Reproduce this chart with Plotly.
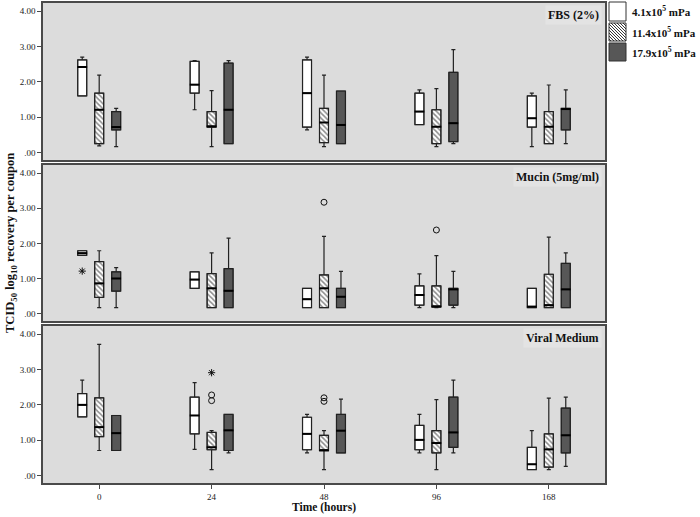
import plotly.graph_objects as go

# ---------------- data ----------------
times = ["0", "24", "48", "96", "168"]
group_names = ["4.1x10<sup>5</sup> mPa", "11.4x10<sup>5</sup> mPa", "17.9x10<sup>5</sup> mPa"]
panel_names = ["FBS (2%)", "Mucin (5mg/ml)", "Viral Medium"]
ytick_vals = [0, 1, 2, 3, 4]
ytick_text = [".00", "1.00", "2.00", "3.00", "4.00"]

# each stat: [white group, hatched group, dark group], values over times
fbs_low = [[1.60, 1.21, 0.64, 0.79, 0.17], [0.19, 0.17, 0.17, 0.17, 0.25], [0.17, 0.25, 0.25, 0.25, 0.25]]
fbs_q1 = [[1.60, 1.68, 0.72, 0.79, 0.72], [0.25, 0.72, 0.28, 0.25, 0.25], [0.64, 0.25, 0.25, 0.31, 0.64]]
fbs_med = [[2.42, 1.92, 1.68, 1.16, 0.97], [1.21, 0.74, 0.85, 0.73, 0.73], [0.72, 1.21, 0.78, 0.83, 1.23]]
fbs_q3 = [[2.62, 2.58, 2.62, 1.68, 1.60], [1.68, 1.16, 1.25, 1.21, 1.16], [1.16, 2.53, 1.74, 2.27, 1.25]]
fbs_high = [[2.70, 2.60, 2.70, 1.77, 1.68], [2.19, 1.75, 2.19, 1.81, 1.91], [1.25, 2.60, 1.74, 2.91, 1.77]]

mucin_low = [[1.66, 0.72, 0.17, 0.17, 0.17], [0.17, 0.17, 0.17, 0.17, 0.17], [0.17, 0.17, 0.17, 0.17, 0.17]]
mucin_q1 = [[1.66, 0.72, 0.17, 0.24, 0.17], [0.46, 0.17, 0.17, 0.19, 0.17], [0.64, 0.17, 0.17, 0.24, 0.17]]
mucin_med = [[1.72, 0.97, 0.41, 0.53, 0.20], [0.86, 0.72, 0.72, 0.20, 0.24], [1.00, 0.65, 0.48, 0.69, 0.69]]
mucin_q3 = [[1.79, 1.19, 0.72, 0.79, 0.72], [1.48, 1.14, 1.10, 0.79, 1.12], [1.19, 1.28, 0.72, 0.72, 1.43]]
mucin_high = [[1.79, 1.19, 0.72, 1.13, 0.72], [1.79, 1.73, 2.20, 1.65, 2.18], [1.31, 2.15, 1.20, 1.20, 1.73]]

viral_low = [[1.66, 0.74, 0.64, 0.64, 0.17], [0.71, 0.17, 0.17, 0.17, 0.17], [0.71, 0.64, 0.64, 0.64, 0.26]]
viral_q1 = [[1.66, 1.18, 0.73, 0.73, 0.17], [1.10, 0.73, 0.71, 0.64, 0.24], [0.71, 0.71, 0.64, 0.80, 0.64]]
viral_med = [[2.00, 1.70, 1.18, 1.01, 0.32], [1.37, 0.80, 0.71, 0.92, 0.74], [1.20, 1.28, 1.27, 1.22, 1.14]]
viral_q3 = [[2.32, 2.22, 1.65, 1.42, 0.80], [2.20, 1.22, 1.14, 1.27, 1.18], [1.70, 1.73, 1.73, 2.22, 1.91]]
viral_high = [[2.70, 2.63, 1.73, 1.73, 1.27], [3.71, 1.27, 1.27, 2.15, 2.19], [1.70, 1.73, 2.16, 2.70, 2.22]]

# outliers: (time index, group index, value, kind)
fbs_outliers = []
mucin_outliers = [(0, 0, 1.21, "star"), (2, 1, 3.17, "circle"), (3, 1, 2.38, "circle")]
viral_outliers = [(1, 1, 2.91, "star"), (1, 1, 2.28, "circle"), (1, 1, 2.12, "circle"),
                  (2, 1, 2.20, "circle"), (2, 1, 2.10, "circle")]

# ---------------- styling ----------------
FONT = "Liberation Serif"
PANEL_BG = "#dcdcdc"
FRAME = "#4a4a4a"
W, H = 700, 517
ML, MR, MT, MB = 43, 95, 3, 34
PW, PH = W - ML - MR, H - MT - MB
group_offsets = [-0.151, 0.0, 0.151]
box_w = 0.08
fills = ["#ffffff", "#ffffff", "#575757"]
patterns = ["", "\\", ""]

panels = [
    (fbs_low, fbs_q1, fbs_med, fbs_q3, fbs_high, fbs_outliers),
    (mucin_low, mucin_q1, mucin_med, mucin_q3, mucin_high, mucin_outliers),
    (viral_low, viral_q1, viral_med, viral_q3, viral_high, viral_outliers),
]
domains = [[0.673, 1.0], [0.3375, 0.6625], [0.0, 0.327]]

fig = go.Figure()

for p, (low, q1, med, q3, high, outs) in enumerate(panels):
    xa = "x" if p == 0 else f"x{p+1}"
    ya = "y" if p == 0 else f"y{p+1}"
    for g in range(3):
        xs = [i + group_offsets[g] for i in range(len(times))]
        # fill (bar from q1 to q3)
        fig.add_trace(go.Bar(
            x=xs, y=[b - a for a, b in zip(q1[g], q3[g])], base=q1[g], width=box_w,
            marker=dict(color=fills[g], line=dict(color="#333333", width=1),
                        pattern=dict(shape=patterns[g], fgcolor="#1a1a1a", bgcolor=fills[g],
                                     size=3.6, solidity=0.45)),
            showlegend=False, xaxis=xa, yaxis=ya, hoverinfo="skip"))
        # box outline + whiskers
        fig.add_trace(go.Box(
            x=xs, q1=q1[g], median=med[g], q3=q3[g], lowerfence=low[g], upperfence=high[g],
            width=box_w, whiskerwidth=0.45, fillcolor="rgba(0,0,0,0)",
            line=dict(color="#222222", width=1.2), boxpoints=False,
            showlegend=False, xaxis=xa, yaxis=ya))
        # thick median line
        fig.add_trace(go.Scatter(
            x=xs, y=med[g], mode="markers",
            marker=dict(symbol="line-ew", size=7, color="#000000",
                        line=dict(color="#000000", width=2.0)),
            showlegend=False, xaxis=xa, yaxis=ya, hoverinfo="skip"))
    # outliers
    for kind, sym in (("circle", "circle-open"), ("star", "asterisk-open")):
        ox = [t + group_offsets[g] for t, g, v, k in outs if k == kind]
        oy = [v for t, g, v, k in outs if k == kind]
        if ox:
            fig.add_trace(go.Scatter(
                x=ox, y=oy, mode="markers",
                marker=dict(symbol=sym, size=6, color="#111111",
                            line=dict(color="#111111", width=1)),
                showlegend=False, xaxis=xa, yaxis=ya, hoverinfo="skip"))
    # panel label
    fig.add_annotation(
        text=f"<b>{panel_names[p]}</b>", xref=f"{xa} domain", yref=f"{ya} domain",
        x=0.995, y=0.985, xanchor="right", yanchor="top", showarrow=False,
        font=dict(family=FONT, size=12, color="#111111"), bgcolor="#e3e3e3", borderpad=2)

axis_common = dict(showline=True, mirror=True, linecolor=FRAME, linewidth=1.5,
                   showgrid=False, zeroline=False, automargin=False)
layout_axes = {}
for p in range(3):
    xk = "xaxis" if p == 0 else f"xaxis{p+1}"
    yk = "yaxis" if p == 0 else f"yaxis{p+1}"
    bottom = (p == 2)
    layout_axes[xk] = dict(
        axis_common, domain=[0, 1], range=[-0.5, 4.5], anchor="y" if p == 0 else f"y{p+1}",
        tickmode="array", tickvals=list(range(len(times))), ticktext=times,
        showticklabels=bottom, ticks="outside" if bottom else "", ticklen=4, tickcolor=FRAME,
        tickfont=dict(family=FONT, size=9, color="#222222"))
    layout_axes[yk] = dict(
        axis_common, domain=domains[p], range=[-0.21, 4.23], anchor="x" if p == 0 else f"x{p+1}",
        tickmode="array", tickvals=ytick_vals, ticktext=ytick_text,
        ticks="outside", ticklen=4, tickcolor=FRAME,
        tickfont=dict(family=FONT, size=9, color="#222222"))

fig.update_layout(
    **layout_axes,
    width=W, height=H,
    margin=dict(l=ML, r=MR, t=MT, b=MB, autoexpand=False),
    paper_bgcolor="#ffffff", plot_bgcolor=PANEL_BG,
    barmode="overlay", boxmode="overlay",
    showlegend=False,
)

# axis titles
fig.add_annotation(
    text="<b>TCID<sub>50</sub> log<sub>10</sub> recovery per coupon</b>",
    xref="paper", yref="paper", x=-32 / PW, y=0.5, xanchor="center", yanchor="middle",
    textangle=-90, showarrow=False, font=dict(family=FONT, size=12.5, color="#111111"))
fig.add_annotation(
    text="<b>Time (hours)</b>", xref="paper", yref="paper", x=0.5, y=-(507 - (MT + PH)) / PH,
    xanchor="center", yanchor="middle", showarrow=False,
    font=dict(family=FONT, size=11.5, color="#111111"))

# legend (drawn manually so swatches match the reference size)
def px_to_paper(px, py):
    return (px - ML) / PW, (MT + PH - py) / PH

sw_x0, sw_x1 = 609, 626
sw_rows = [(2, 21), (23, 41), (43, 61)]
for g, (y0, y1) in enumerate(sw_rows):
    a0, b1 = px_to_paper(sw_x0, y0)
    a1, b0 = px_to_paper(sw_x1, y1)
    fig.add_shape(type="rect", xref="paper", yref="paper", x0=a0, x1=a1, y0=b0, y1=b1,
                  fillcolor=fills[g], line=dict(color="#333333", width=1))
    if patterns[g]:
        segs = []
        step = 3
        c = y0 - sw_x1
        while c <= y1 - sw_x0:
            xa_ = max(sw_x0, y0 - c)
            xb_ = min(sw_x1, y1 - c)
            if xb_ > xa_:
                p0 = px_to_paper(xa_, xa_ + c)
                p1 = px_to_paper(xb_, xb_ + c)
                segs.append(f"M{p0[0]:.5f},{p0[1]:.5f}L{p1[0]:.5f},{p1[1]:.5f}")
            c += step
        fig.add_shape(type="path", xref="paper", yref="paper", path="".join(segs),
                      line=dict(color="#222222", width=0.9))
    tx, ty = px_to_paper(630, (y0 + y1) / 2)
    fig.add_annotation(text=f"<b>{group_names[g]}</b>", xref="paper", yref="paper",
                       x=tx, y=ty, xanchor="left", yanchor="middle", showarrow=False,
                       font=dict(family=FONT, size=11, color="#111111"))

fig.write_html("out.html", config={"displayModeBar": False},
               post_script="document.body.style.margin='0px';")
